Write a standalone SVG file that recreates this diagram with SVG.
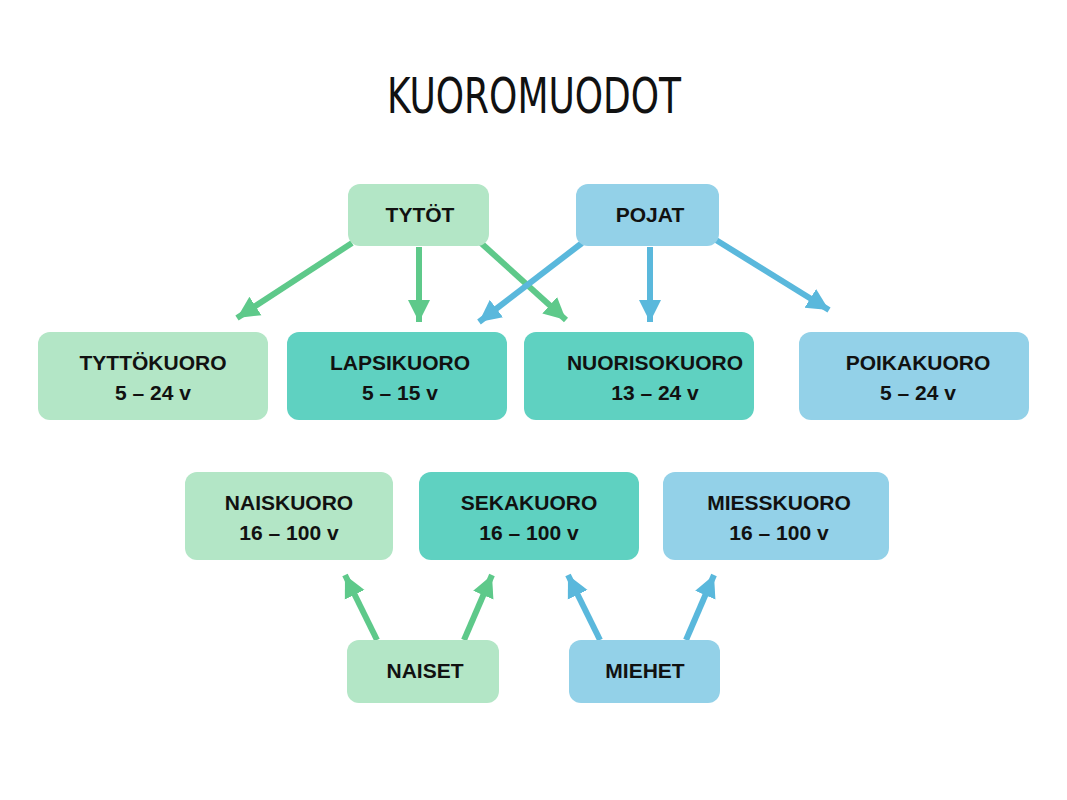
<svg xmlns="http://www.w3.org/2000/svg" width="1067" height="800" viewBox="0 0 1067 800">
<style>
.g{fill:#b3e6c6}.t{fill:#5fd1c1}.b{fill:#93d1e8}
text{font-family:"Liberation Sans",Arial,sans-serif;font-weight:bold;font-size:21px;fill:#111;text-anchor:middle}
.ag{stroke:#5ec98a;stroke-width:6;fill:none;marker-end:url(#mg)}
.ab{stroke:#5ab8dc;stroke-width:6;fill:none;marker-end:url(#mb)}
</style>
<defs>
<marker id="mg" markerUnits="userSpaceOnUse" markerWidth="24" markerHeight="24" refX="22" refY="12" orient="auto"><path d="M0,1 L22,12 L0,23 Z" fill="#5ec98a"/></marker>
<marker id="mb" markerUnits="userSpaceOnUse" markerWidth="24" markerHeight="24" refX="22" refY="12" orient="auto"><path d="M0,1 L22,12 L0,23 Z" fill="#5ab8dc"/></marker>
</defs>
<rect width="1067" height="800" fill="#fff"/>
<text x="534" y="113" style="font-family:'DejaVu Sans Condensed','DejaVu Sans',sans-serif;font-size:50px;font-weight:normal" textLength="294" lengthAdjust="spacingAndGlyphs">KUOROMUODOT</text>
<g id="connectors">
<path class="ag" d="M352,243 L237,318"/>
<path class="ag" d="M419,247 L419,322"/>
<path class="ag" d="M481,243 L566,320"/>
<path class="ab" d="M582,243 L479,322"/>
<path class="ab" d="M650,247 L650,322"/>
<path class="ab" d="M716,240 L829,310"/>
<path class="ag" d="M377,640 L345,575"/>
<path class="ag" d="M464,640 L492,575"/>
<path class="ab" d="M600,640 L568,575"/>
<path class="ab" d="M686,640 L714,575"/>
</g>
<g id="tytot"><rect class="g" x="348" y="184" width="141" height="62" rx="12"/><text x="420" y="222">TYTÖT</text></g>
<g id="pojat"><rect class="b" x="576" y="184" width="143" height="62" rx="12"/><text x="650" y="222">POJAT</text></g>
<g id="tyttokuoro"><rect class="g" x="38" y="332" width="230" height="88" rx="12"/><text x="153" y="370">TYTTÖKUORO</text><text x="153" y="400">5 – 24 v</text></g>
<g id="lapsikuoro"><rect class="t" x="287" y="332" width="220" height="88" rx="12"/><text x="400" y="370">LAPSIKUORO</text><text x="400" y="400">5 – 15 v</text></g>
<g id="nuorisokuoro"><rect class="t" x="524" y="332" width="230" height="88" rx="12"/><text x="655" y="370">NUORISOKUORO</text><text x="655" y="400">13 – 24 v</text></g>
<g id="poikakuoro"><rect class="b" x="799" y="332" width="230" height="88" rx="12"/><text x="918" y="370">POIKAKUORO</text><text x="918" y="400">5 – 24 v</text></g>
<g id="naiskuoro"><rect class="g" x="185" y="472" width="208" height="88" rx="12"/><text x="289" y="510">NAISKUORO</text><text x="289" y="540">16 – 100 v</text></g>
<g id="sekakuoro"><rect class="t" x="419" y="472" width="220" height="88" rx="12"/><text x="529" y="510">SEKAKUORO</text><text x="529" y="540">16 – 100 v</text></g>
<g id="miesskuoro"><rect class="b" x="663" y="472" width="226" height="88" rx="12"/><text x="779" y="510">MIESSKUORO</text><text x="779" y="540">16 – 100 v</text></g>
<g id="naiset"><rect class="g" x="347" y="640" width="152" height="63" rx="12"/><text x="425" y="678">NAISET</text></g>
<g id="miehet"><rect class="b" x="569" y="640" width="151" height="63" rx="12"/><text x="645" y="678">MIEHET</text></g>
</svg>
